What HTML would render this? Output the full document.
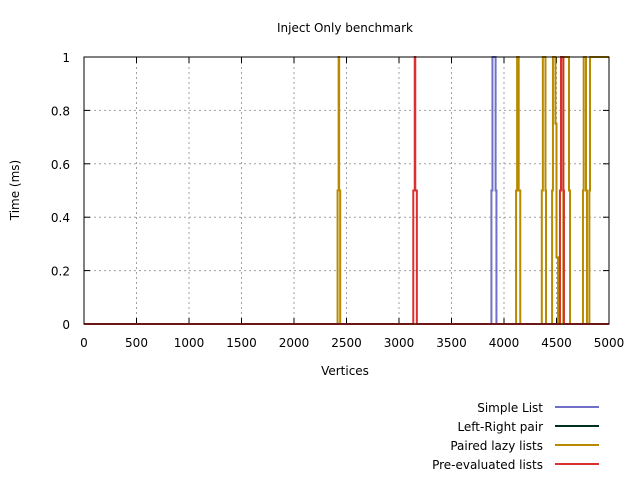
<!DOCTYPE html>
<html><head><meta charset="utf-8"><style>
body{margin:0;background:#fff}
svg{display:block;font-family:"DejaVu Sans","Liberation Sans",sans-serif;font-size:12px}
</style></head><body>
<svg id="c" width="640" height="480"></svg>
<script>
const xTicks=[0,500,1000,1500,2000,2500,3000,3500,4000,4500,5000];
const yTicks=[0,0.2,0.4,0.6,0.8,1];
const yTickLabels=["0","0.2","0.4","0.6","0.8","1"];
const seriesNames=["Simple List","Left-Right pair","Paired lazy lists","Pre-evaluated lists"];
const seriesColors=["#7070c8","#003020","#b88a00","#d83030"];
const simpleX=[0,3880,3890,3920,3928,5000];
const simpleY=[0,0.5,1,0.5,0,0];
const lrX=[0,5000];
const lrY=[0,0];
const lazyX=[0,2415,2425,2430,2440,4115,4125,4140,4155,4360,4370,4395,4400,4458,4466,4490,4500,4515,4565,4619,4629,4752,4759,4781,4790,4813,4819,5000];
const lazyY=[0,0.5,1,0.5,0,0.5,1,0.5,0,0.5,1,0.5,0,0.5,1,0.75,0.25,0,1,0.5,0,0.5,1,0.5,0,0.5,1,1];
const preX=[0,3136,3150,3155,3170,4533,4543,4565,4571,5000];
const preY=[0,0.5,1,0.5,0,0.5,1,0.5,0,0];

const svg=document.getElementById('c');const NS='http://www.w3.org/2000/svg';
const L=84,R=609,T=57,B=324;
const sx=v=>L+(v-0)/5000*(R-L);
const sy=v=>B-(v-0)/1*(B-T);
function mk(tag,attrs,parent){const e=document.createElementNS(NS,tag);for(const k in attrs)e.setAttribute(k,attrs[k]);(parent||svg).appendChild(e);return e;}
xTicks.forEach((t,i)=>{const x=sx(t);
 if(i>0&&i<xTicks.length-1){const g=mk('line',{x1:x,x2:x,y1:T,y2:B,stroke:'#a0a0a0','stroke-dasharray':'2,3'});
 
 }
 mk('line',{x1:x,x2:x,y1:B,y2:B-6,stroke:'#000'});mk('line',{x1:x,x2:x,y1:T,y2:T+6,stroke:'#000'});
 const tx=mk('text',{x:x,y:B+23,'text-anchor':'middle'});tx.textContent=t;
 
 
});
yTicks.forEach((t,i)=>{const y=sy(t);
 if(i>0&&i<yTicks.length-1){const g=mk('line',{x1:L,x2:R,y1:y,y2:y,stroke:'#a0a0a0','stroke-dasharray':'2,3'});
 
 }
 mk('line',{x1:L,x2:L+6,y1:y,y2:y,stroke:'#000'});mk('line',{x1:R,x2:R-6,y1:y,y2:y,stroke:'#000'});
 const tx=mk('text',{x:L-14,y:y+5,'text-anchor':'end'});tx.textContent=yTickLabels[i];
 
 
});
const data=[[simpleX,simpleY],[lrX,lrY],[lazyX,lazyY],[preX,preY]];
const order=[1,0,2,3];
order.forEach(i=>{const [xs,ys]=data[i];
 let d='M'+sx(xs[0])+','+sy(ys[0]);
 for(let j=1;j<xs.length;j++){d+=' H'+sx(xs[j])+' V'+sy(ys[j]);}
 const p=mk('path',{d:d,fill:'none',stroke:seriesColors[i],'stroke-width':2});
 
 
});
const fr=mk('rect',{x:L,y:T,width:R-L,height:B-T,fill:'none',stroke:'#000'});


const title=mk('text',{x:345,y:32,'text-anchor':'middle'});title.textContent='Inject Only benchmark';


const xl=mk('text',{x:345,y:375,'text-anchor':'middle'});xl.textContent='Vertices';


const yl=mk('text',{x:0,y:0,'text-anchor':'middle',transform:'translate(19,190) rotate(-90)'});yl.textContent='Time (ms)';


seriesNames.forEach((n,i)=>{const y=407+i*19;
 const g=mk('g',{});
 
 
 const t=mk('text',{x:543,y:y+5,'text-anchor':'end'},g);t.textContent=n;
 mk('line',{x1:555,x2:599,y1:y,y2:y,stroke:seriesColors[i],'stroke-width':2},g);
});
</script>
</body></html>
